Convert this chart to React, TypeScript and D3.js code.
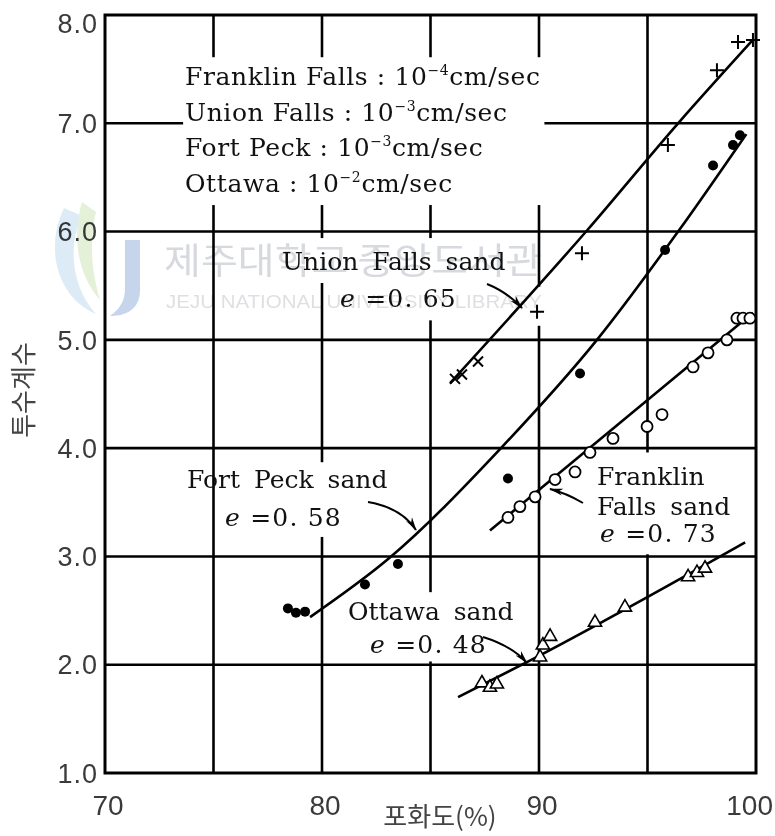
import React, { useEffect, useRef } from 'react';
import * as d3 from 'd3';

// axis ticks and grid
const xTicks = [70, 80, 90, 100];
const yTicks = [1, 2, 3, 4, 5, 6, 7, 8];
const xGrid = [75, 80, 85, 90, 95];
const yGrid = [2, 3, 4, 5, 6, 7];

// permeability legend
const legendNames = ['Franklin Falls', 'Union Falls', 'Fort Peck', 'Ottawa'];
const legendExps = ['−4', '−3', '−3', '−2'];

// Union Falls sand (e = 0.65)
const unionCross: [number, number][] = [[86.13, 4.64], [86.45, 4.68], [87.19, 4.80]];
const unionPlus: [number, number][] = [
  [89.91, 5.26], [91.98, 5.80], [95.94, 6.80], [98.2, 7.49], [99.17, 7.75], [99.86, 7.77]
];
const unionLine: [number, number][] = [[85.9, 4.6], [92.21, 6.01], [96.41, 7.0], [99.9, 7.78]];

// Fort Peck sand (e = 0.58)
const fortPeckPts: [number, number][] = [
  [78.43, 2.52], [78.8, 2.48], [79.22, 2.49], [81.98, 2.74], [83.5, 2.93], [88.57, 3.72],
  [91.89, 4.69], [95.81, 5.83], [98.02, 6.61], [98.94, 6.8], [99.26, 6.89]
];
const fortPeckLine: [number, number][] = [
  [79.45, 2.44], [83.13, 2.99], [88.29, 4.01], [92.67, 5.0], [96.41, 6.0], [99.55, 6.9]
];

// Franklin Falls sand (e = 0.73)
const franklinPts: [number, number][] = [
  [88.57, 3.36], [89.12, 3.46], [89.82, 3.55], [90.74, 3.71], [91.66, 3.78], [92.35, 3.96],
  [93.41, 4.09], [94.98, 4.2], [95.67, 4.31], [97.1, 4.75], [97.79, 4.88], [98.66, 5.0],
  [99.12, 5.2], [99.4, 5.2], [99.72, 5.2]
];
const franklinLine: [number, number][] = [[87.74, 3.24], [99.86, 5.25]];

// Ottawa sand (e = 0.48)
const ottawaPts: [number, number][] = [
  [87.37, 1.83], [87.74, 1.79], [88.06, 1.82], [90.05, 2.07], [90.18, 2.18], [90.51, 2.26],
  [92.58, 2.39], [93.96, 2.53], [96.87, 2.81], [97.28, 2.85], [97.65, 2.89]
];
const ottawaLine: [number, number][] = [[86.27, 1.7], [89.6, 2.04], [99.5, 3.13]];

const W = 775;
const H = 836;
const SERIF = '"DejaVu Serif", "Liberation Serif", serif';
const SANS = '"Liberation Sans", Arial, sans-serif';
const KR = '"Noto Sans CJK KR", sans-serif';

export default function App() {
  const svgRef = useRef<SVGSVGElement>(null);

  useEffect(() => {
    if (!svgRef.current) return;
    const svg = d3.select(svgRef.current);
    svg.selectAll('*').remove();

    const x = d3.scaleLinear().domain([70, 100]).range([105, 756]);
    const y = d3.scaleLinear().domain([1, 8]).range([773, 15]);

    svg.append('rect').attr('width', W).attr('height', H).attr('fill', '#fff');

    const defs = svg.append('defs');
    defs.append('marker')
      .attr('id', 'arrow')
      .attr('viewBox', '0 0 14 8')
      .attr('refX', 13).attr('refY', 4)
      .attr('markerWidth', 14).attr('markerHeight', 8)
      .attr('markerUnits', 'userSpaceOnUse')
      .attr('orient', 'auto')
      .append('path')
      .attr('d', 'M0,0.5 L14,4 L0,7.5 L4,4 Z')
      .attr('fill', '#000');

    // grid
    const grid = svg.append('g').attr('stroke', '#000').attr('stroke-width', 2.6);
    xGrid.forEach(v => {
      grid.append('line').attr('x1', x(v)).attr('x2', x(v)).attr('y1', y(1)).attr('y2', y(8));
    });
    yGrid.forEach(v => {
      grid.append('line').attr('x1', x(70)).attr('x2', x(100)).attr('y1', y(v)).attr('y2', y(v));
    });

    // white boxes behind the printed labels (data units: s0, s1, vTop, vBottom)
    const boxes = [
      [73.6, 90.25, 7.61, 6.245],
      [77.83, 88.9, 5.94, 5.525],
      [80.6, 85.8, 5.525, 5.18],
      [89.6, 90.3, 5.49, 5.13],
      [79.0, 83.6, 3.87, 3.18],
      [92.35, 99.5, 3.96, 3.02],
      [80.8, 88.9, 2.67, 2.03]
    ];
    boxes.forEach(([s0, s1, v0, v1]) => {
      svg.append('rect')
        .attr('x', x(s0)).attr('y', y(v0))
        .attr('width', x(s1) - x(s0)).attr('height', y(v1) - y(v0))
        .attr('fill', '#fff');
    });

    // frame
    svg.append('rect')
      .attr('x', x(70)).attr('y', y(8))
      .attr('width', x(100) - x(70)).attr('height', y(1) - y(8))
      .attr('fill', 'none').attr('stroke', '#000').attr('stroke-width', 3);

    // tick labels
    svg.append('g').selectAll('text').data(yTicks).join('text')
      .attr('x', 98)
      .attr('y', d => (d === 8 ? y(d) + 8 : y(d)))
      .attr('dy', '0.36em')
      .attr('text-anchor', 'end')
      .attr('font-family', SANS)
      .attr('font-size', 27)
      .attr('letter-spacing', 1)
      .attr('fill', '#3a3a3a')
      .text(d => d.toFixed(1));

    svg.append('g').selectAll('text').data(xTicks).join('text')
      .attr('x', d => (d === 100 ? 773 : x(d) + 3))
      .attr('y', 815)
      .attr('text-anchor', d => (d === 100 ? 'end' : 'middle'))
      .attr('font-family', SANS)
      .attr('font-size', 28)
      .attr('fill', '#3a3a3a')
      .text(d => d);

    svg.append('text')
      .attr('x', 440).attr('y', 826)
      .attr('text-anchor', 'middle')
      .attr('font-family', KR).attr('font-size', 26)
      .attr('fill', '#444')
      .text('포화도(%)');

    svg.append('text')
      .attr('transform', 'translate(33,390) rotate(-90)')
      .attr('text-anchor', 'middle')
      .attr('font-family', KR).attr('font-size', 26)
      .attr('fill', '#444')
      .text('투수계수');

    // legend
    legendNames.forEach((name, i) => {
      const t = svg.append('text')
        .attr('x', 185).attr('y', 85 + i * 35.7)
        .attr('font-family', SERIF).attr('font-size', 25)
        .attr('letter-spacing', 0.6)
        .attr('fill', '#111');
      t.append('tspan').text(`${name} : 10`);
      t.append('tspan').attr('font-size', 14).attr('dy', -10).text(legendExps[i]);
      t.append('tspan').attr('dy', 10).text('cm/sec');
    });

    // labels
    const label = (lines: { x: number; y: number; text: string; e?: boolean }[]) => {
      lines.forEach(l => {
        const t = svg.append('text')
          .attr('x', l.x).attr('y', l.y)
          .attr('font-family', SERIF).attr('font-size', 25)
          .attr('fill', '#111');
        if (l.e) {
          t.attr('letter-spacing', 1.2);
          t.append('tspan').attr('font-style', 'italic').text('e');
          t.append('tspan').text(' ' + l.text);
        } else {
          t.attr('word-spacing', 6).text(l.text);
        }
      });
    };
    label([{ x: 282, y: 270, text: 'Union Falls sand' }, { x: 340, y: 307, text: '=0. 65', e: true }]);
    label([{ x: 187, y: 488, text: 'Fort Peck sand' }, { x: 225, y: 526, text: '=0. 58', e: true }]);
    label([
      { x: 597, y: 485, text: 'Franklin' },
      { x: 597, y: 515, text: 'Falls sand' },
      { x: 600, y: 542, text: '=0. 73', e: true }
    ]);
    label([{ x: 348, y: 620, text: 'Ottawa sand' }, { x: 370, y: 653, text: '=0. 48', e: true }]);

    // arrows
    const arrows = [
      'M487,284 Q507,292 522,308',
      'M368,502 Q402,508 416,530',
      'M583,503 Q566,493 550,489',
      'M483,637 Q512,646 527,663'
    ];
    arrows.forEach(d => {
      svg.append('path').attr('d', d).attr('fill', 'none')
        .attr('stroke', '#000').attr('stroke-width', 2)
        .attr('marker-end', 'url(#arrow)');
    });

    // fitted lines
    const line = d3.line<[number, number]>()
      .x(d => x(d[0])).y(d => y(d[1]))
      .curve(d3.curveMonotoneX);
    [unionLine, fortPeckLine, franklinLine, ottawaLine].forEach(pts => {
      svg.append('path').attr('d', line(pts)).attr('fill', 'none')
        .attr('stroke', '#000').attr('stroke-width', 2.6);
    });

    // markers
    const marks = svg.append('g');
    unionCross.forEach(([s, v]) => {
      const cx = x(s), cy = y(v), r = 5;
      marks.append('path')
        .attr('d', `M${cx - r},${cy - r}L${cx + r},${cy + r}M${cx - r},${cy + r}L${cx + r},${cy - r}`)
        .attr('stroke', '#000').attr('stroke-width', 2);
    });
    unionPlus.forEach(([s, v]) => {
      const cx = x(s), cy = y(v), r = 7;
      marks.append('path')
        .attr('d', `M${cx - r},${cy}H${cx + r}M${cx},${cy - r}V${cy + r}`)
        .attr('stroke', '#000').attr('stroke-width', 2);
    });
    fortPeckPts.forEach(([s, v]) => {
      marks.append('circle').attr('cx', x(s)).attr('cy', y(v)).attr('r', 5).attr('fill', '#000');
    });
    franklinPts.forEach(([s, v]) => {
      marks.append('circle').attr('cx', x(s)).attr('cy', y(v)).attr('r', 5.5)
        .attr('fill', '#fff').attr('stroke', '#000').attr('stroke-width', 1.8);
    });
    const tri = d3.symbol().type(d3.symbolTriangle).size(75);
    ottawaPts.forEach(([s, v]) => {
      marks.append('path').attr('d', tri()).attr('transform', `translate(${x(s)},${y(v)})`)
        .attr('fill', '#fff').attr('stroke', '#000').attr('stroke-width', 1.6);
    });

    // library watermark
    const wm = svg.append('g').style('mix-blend-mode', 'multiply').attr('opacity', 0.85);
    wm.append('path')
      .attr('d', 'M64,208 C44,250 58,298 96,314 C74,290 66,250 82,216 Z')
      .attr('fill', '#d6e8f4');
    wm.append('path')
      .attr('d', 'M82,202 C72,236 77,274 100,300 C90,266 90,236 96,212 Z')
      .attr('fill', '#e1eed2');
    wm.append('path')
      .attr('d', 'M125,240 H140 V290 C140,308 128,316 110,316 C121,308 125,300 125,288 Z')
      .attr('fill', '#bccde9');
    wm.append('text')
      .attr('x', 164).attr('y', 274)
      .attr('font-family', KR).attr('font-size', 36)
      .attr('textLength', 378).attr('lengthAdjust', 'spacingAndGlyphs')
      .attr('fill', '#cfd2d7')
      .text('제주대학교 중앙도서관');
    wm.append('text')
      .attr('x', 166).attr('y', 308)
      .attr('font-family', SANS).attr('font-size', 19)
      .attr('textLength', 376).attr('lengthAdjust', 'spacingAndGlyphs')
      .attr('fill', '#d8dade')
      .text('JEJU NATIONAL UNIVERSITY LIBRARY');
  }, []);

  return (
    <svg
      ref={svgRef}
      width={W}
      height={H}
      style={{ position: 'absolute', left: 0, top: 0 }}
    />
  );
}
